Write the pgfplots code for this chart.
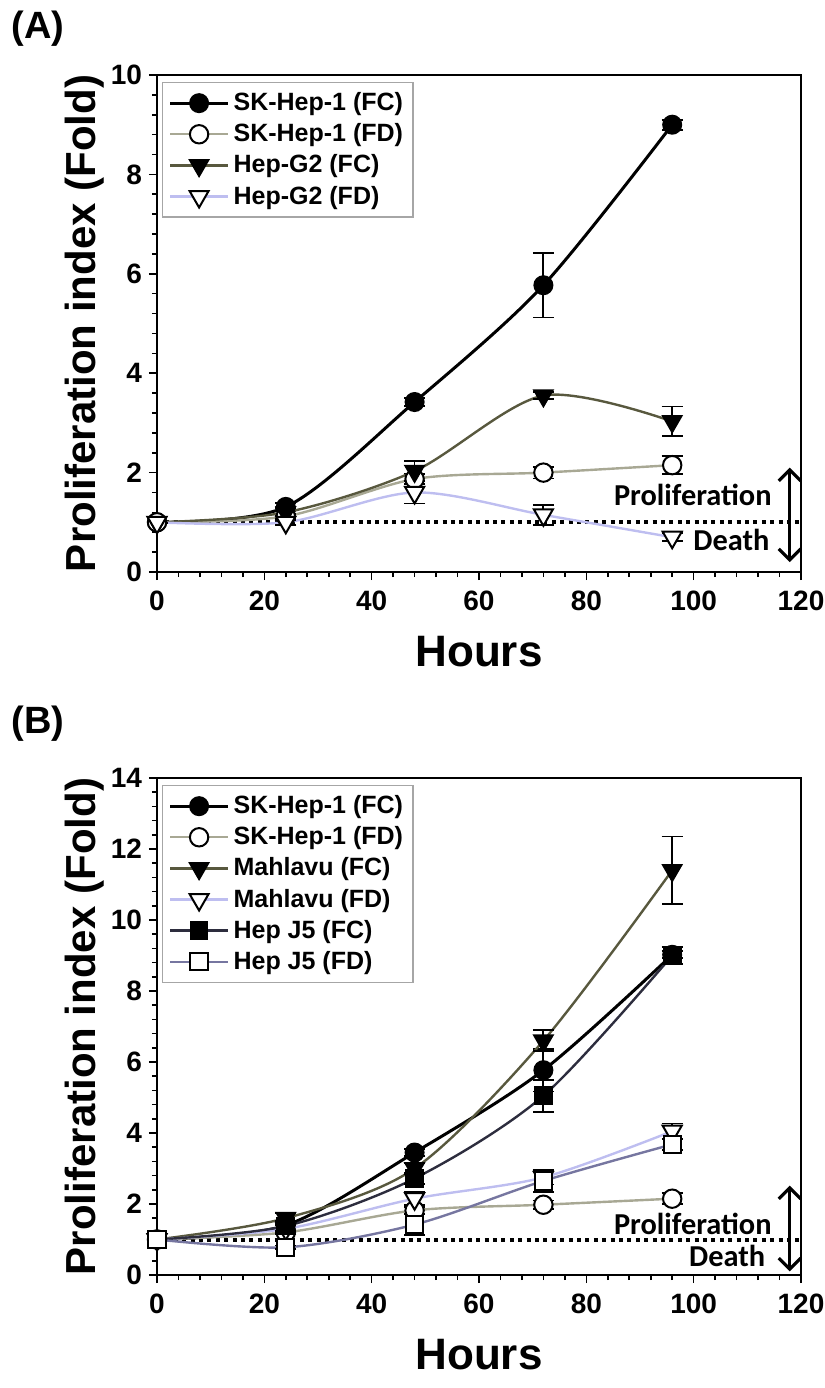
\documentclass[border=0pt]{standalone}
\usepackage{fontspec}
\setmainfont{Liberation Sans}
\newfontfamily\calibri{Carlito}
\usepackage{pgfplots}
\pgfplotsset{compat=1.18}
\usetikzlibrary{arrows.meta}

\definecolor{cSKFD}{RGB}{168,168,148}
\definecolor{cFC}{RGB}{88,88,62}
\definecolor{cFD}{RGB}{190,190,240}
\definecolor{cJ5FC}{RGB}{45,45,62}
\definecolor{cJ5FD}{RGB}{118,118,160}

\tikzset{
  refline/.style={line width=2pt, dash pattern=on 2pt off 2.2pt},
  twoway/.style={{Straight Barb[length=5.5pt,width=11pt]}-{Straight Barb[length=5.5pt,width=11pt]}, line width=1.6pt},
}

\pgfplotsset{
  panel/.style={
    width=322pt, height=248.5pt, scale only axis,
    xmin=0, xmax=120, ymin=0,
    xtick={0,20,...,120}, minor x tick num=4, minor y tick num=4,
    tick pos=left, tick align=outside,
    major tick length=4pt, minor tick length=2.5pt,
    every tick/.style={black, line width=0.8pt},
    axis line style={line width=1.2pt},
    ticklabel style={font=\bfseries\fontsize{14}{16}\selectfont},
    xticklabel style={yshift=-2pt},
    /pgf/number format/assume math mode=true,
    legend style={at={(0,1)}, anchor=north west, xshift=2.5pt, yshift=-3.5pt,
      draw=black!35, line width=0.6pt,
      font=\bfseries\fontsize{12.5}{14}\selectfont,
      row sep=1pt, inner xsep=3pt, inner ysep=3pt},
    legend cell align=left,
    legend image code/.code={\draw[mark repeat=2,mark phase=2,#1]
      plot coordinates {(0pt,0pt) (14.5pt,0pt) (29pt,0pt)};},
    error bars/y dir=both, error bars/y explicit,
    error bars/error bar style={black, line width=0.9pt, solid},
    error bars/error mark options={black, line width=0.9pt, mark size=5.25pt, rotate=90},
  },
  sSKFC/.style={black, line width=1.5pt, smooth, mark=*, mark size=4.6pt,
    mark options={fill=black, draw=black, line width=0.8pt}},
  sSKFD/.style={cSKFD, line width=1.2pt, smooth, mark=*, mark size=4.6pt,
    mark options={fill=white, draw=black, line width=1pt}},
  sFC/.style={cFC, line width=1.2pt, smooth, mark=triangle*, mark size=5.5pt,
    mark options={rotate=180, fill=black, draw=black, line width=0.8pt}},
  sFD/.style={cFD, line width=1.2pt, smooth, mark=triangle*, mark size=5.5pt,
    mark options={rotate=180, fill=white, draw=black, line width=1pt}},
  sJ5FC/.style={cJ5FC, line width=1.2pt, smooth, mark=square*, mark size=4.3pt,
    mark options={fill=black, draw=black, line width=0.8pt}},
  sJ5FD/.style={cJ5FD, line width=1.2pt, smooth, mark=square*, mark size=4.3pt,
    mark options={fill=white, draw=black, line width=1pt}},
}

\newcommand\lblfont{\bfseries\fontsize{21}{24}\selectfont}
\newcommand\hrsfont{\bfseries\fontsize{22}{26}\selectfont}
\newcommand\panfont{\bfseries\fontsize{19}{21}\selectfont}
\newcommand\notefont{\calibri\bfseries\fontsize{15.2}{17}\selectfont}

\begin{document}
\begin{tikzpicture}
\useasboundingbox (-78.5pt,-408pt) rectangle (334pt,286pt);

% ---------- (A)
\begin{axis}[panel, name=A, ymax=10, ytick={0,2,...,10}]
  \draw[refline] (axis cs:0,1) -- (axis cs:120,1);
  \addplot[sSKFC] coordinates {(0,1) +- (0,0.02) (24,1.31) +- (0,0.08) (48,3.42) +- (0,0.08) (72,5.77) +- (0,0.65) (96,9.0) +- (0,0.1)};
  \addplot[sSKFD] coordinates {(0,1) +- (0,0.02) (24,1.12) +- (0,0.05) (48,1.87) +- (0,0.1) (72,2.0) +- (0,0.12) (96,2.15) +- (0,0.18)};
  \addplot[sFC] coordinates {(0,1) +- (0,0.02) (24,1.2) +- (0,0.08) (48,2.03) +- (0,0.2) (72,3.55) +- (0,0.07) (96,3.03) +- (0,0.3)};
  \addplot[sFD] coordinates {(0,1) +- (0,0.02) (24,1.0) +- (0,0.05) (48,1.6) +- (0,0.22) (72,1.15) +- (0,0.2) (96,0.7) +- (0,0.08)};
  \legend{SK-Hep-1 (FC), SK-Hep-1 (FD), Hep-G2 (FC), Hep-G2 (FD)}
  \draw[twoway] (axis cs:117.9,2.1) -- (axis cs:117.9,0.2);
  \node[anchor=east, font=\notefont, inner sep=0pt] at (axis cs:114.6,1.55) {Proliferation};
  \node[anchor=east, font=\notefont, inner sep=0pt] at (axis cs:114.2,0.64) {Death};
\end{axis}
\node[rotate=90, font=\lblfont] at ([xshift=-36pt]A.west) {Proliferation index (Fold)};
\node[font=\hrsfont, inner sep=0pt] at ([yshift=-40pt]A.south) {Hours};
\node[font=\panfont] at ([xshift=-59.5pt,yshift=23pt]A.north west) {(A)};

% ---------- (B)
\begin{axis}[panel, name=B, at={(0,-351.5pt)}, anchor=south west, ymax=14, ytick={0,2,...,14}]
  \draw[refline] (axis cs:0,1) -- (axis cs:120,1);
  \addplot[sSKFC] coordinates {(0,1) +- (0,0.02) (24,1.4) +- (0,0.1) (48,3.45) +- (0,0.1) (72,5.77) +- (0,0.6) (96,9.02) +- (0,0.1)};
  \addplot[sSKFD] coordinates {(0,1) +- (0,0.02) (24,1.2) +- (0,0.05) (48,1.82) +- (0,0.1) (72,1.98) +- (0,0.12) (96,2.15) +- (0,0.15)};
  \addplot[sFC] coordinates {(0,1) +- (0,0.02) (24,1.6) +- (0,0.15) (48,3.0) +- (0,0.15) (72,6.6) +- (0,0.3) (96,11.4) +- (0,0.95)};
  \addplot[sFD] coordinates {(0,1) +- (0,0.02) (24,1.3) +- (0,0.1) (48,2.15) +- (0,0.18) (72,2.75) +- (0,0.2) (96,4.05) +- (0,0.22)};
  \addplot[sJ5FC] coordinates {(0,1) +- (0,0.02) (24,1.38) +- (0,0.15) (48,2.72) +- (0,0.15) (72,5.05) +- (0,0.45) (96,9.0) +- (0,0.25)};
  \addplot[sJ5FD] coordinates {(0,1) +- (0,0.02) (24,0.78) +- (0,0.05) (48,1.42) +- (0,0.3) (72,2.65) +- (0,0.32) (96,3.68) +- (0,0.15)};
  \legend{SK-Hep-1 (FC), SK-Hep-1 (FD), Mahlavu (FC), Mahlavu (FD), Hep J5 (FC), Hep J5 (FD)}
  \draw[twoway] (axis cs:117.9,2.52) -- (axis cs:117.9,0.1);
  \node[anchor=east, font=\notefont, inner sep=0pt] at (axis cs:114.6,1.45) {Proliferation};
  \node[anchor=east, font=\notefont, inner sep=0pt] at (axis cs:113.4,0.55) {Death};
\end{axis}
\node[rotate=90, font=\lblfont] at ([xshift=-36pt]B.west) {Proliferation index (Fold)};
\node[font=\hrsfont, inner sep=0pt] at ([yshift=-40pt]B.south) {Hours};
\node[font=\panfont] at ([xshift=-59.5pt,yshift=27pt]B.north west) {(B)};
\end{tikzpicture}
\end{document}
